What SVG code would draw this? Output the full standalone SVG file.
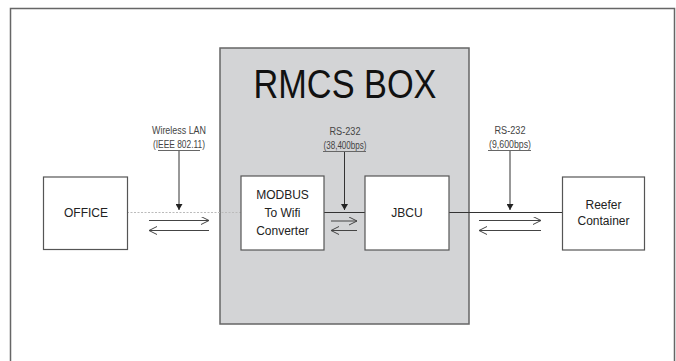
<svg xmlns="http://www.w3.org/2000/svg" width="676" height="361" viewBox="0 0 676 361">
<style>
.box{fill:#fff;stroke:#555;stroke-width:1.2}
.ln{stroke:#333;stroke-width:1;fill:none}
.arr{stroke:#444;stroke-width:1;fill:none}
.t{font-family:"Liberation Sans",Arial,sans-serif;fill:#222;text-anchor:middle}
.m{font-size:12px}
.s{font-size:10px;fill:#444}
</style>
<defs>
<marker id="open" markerWidth="10" markerHeight="10" refX="8" refY="4" orient="auto" markerUnits="userSpaceOnUse">
<path d="M0,0 L8,4 L0,8" fill="none" stroke="#444" stroke-width="1"/>
</marker>
<marker id="fill" markerWidth="8" markerHeight="8" refX="3.5" refY="6" orient="0" markerUnits="userSpaceOnUse">
<path d="M0,0 L7,0 L3.5,6 Z" fill="#222"/>
</marker>
</defs>
<rect x="0" y="0" width="676" height="361" fill="#fff"/>
<path d="M10.5,370 L10.5,8.5 L674.5,8.5 L674.5,370" fill="none" stroke="#666" stroke-width="1.5"/>
<g id="rmcs">
<rect x="220" y="48" width="249" height="276" fill="#d3d4d6" stroke="#666" stroke-width="1.5"/>
<text class="t" x="345" y="97.5" font-size="40" textLength="183" lengthAdjust="spacingAndGlyphs" style="fill:#111">RMCS BOX</text>
</g>
<g id="connectors">
<line x1="127" y1="212.5" x2="241" y2="212.5" stroke="#bbb" stroke-width="1.2" stroke-dasharray="2,1.5"/>
<line class="ln" x1="324" y1="212.5" x2="365" y2="212.5"/>
<line class="ln" x1="449" y1="212.5" x2="562" y2="212.5"/>
<line class="ln" x1="179" y1="151" x2="179" y2="210" marker-end="url(#fill)"/>
<line class="ln" x1="344.5" y1="152" x2="344.5" y2="210" marker-end="url(#fill)"/>
<line class="ln" x1="510" y1="151" x2="510" y2="210" marker-end="url(#fill)"/>
<line class="arr" x1="149" y1="220.5" x2="209" y2="220.5" marker-end="url(#open)"/>
<line class="arr" x1="209" y1="230.5" x2="149" y2="230.5" marker-end="url(#open)"/>
<line class="arr" x1="331" y1="221" x2="357" y2="221" marker-end="url(#open)"/>
<line class="arr" x1="357" y1="230.5" x2="331" y2="230.5" marker-end="url(#open)"/>
<line class="arr" x1="479" y1="220.5" x2="541" y2="220.5" marker-end="url(#open)"/>
<line class="arr" x1="541" y1="230.5" x2="479" y2="230.5" marker-end="url(#open)"/>
<line stroke="#666" stroke-width="1" x1="158" y1="150.5" x2="200" y2="150.5"/>
<line stroke="#666" stroke-width="1" x1="323" y1="151.5" x2="366" y2="151.5"/>
<line stroke="#666" stroke-width="1" x1="488" y1="150.5" x2="531" y2="150.5"/>
<text class="t s" x="179" y="134" textLength="54" lengthAdjust="spacingAndGlyphs">Wireless LAN</text>
<text class="t s" x="179" y="147.5" textLength="52" lengthAdjust="spacingAndGlyphs">(IEEE 802.11)</text>
<text class="t s" x="345" y="135" textLength="31" lengthAdjust="spacingAndGlyphs">RS-232</text>
<text class="t s" x="345" y="148.5" textLength="43" lengthAdjust="spacingAndGlyphs">(38,400bps)</text>
<text class="t s" x="510" y="134" textLength="31" lengthAdjust="spacingAndGlyphs">RS-232</text>
<text class="t s" x="510" y="147.5" textLength="42" lengthAdjust="spacingAndGlyphs">(9,600bps)</text>
</g>
<g id="office">
<rect class="box" x="43.5" y="177" width="84" height="72.5"/>
<text class="t m" x="86" y="217">OFFICE</text>
</g>
<g id="modbus">
<rect class="box" x="241" y="176" width="83" height="74"/>
<text class="t m" x="282.5" y="199">MODBUS</text>
<text class="t m" x="282.5" y="217">To Wifi</text>
<text class="t m" x="282.5" y="235">Converter</text>
</g>
<g id="jbcu">
<rect class="box" x="365" y="176" width="84" height="74"/>
<text class="t m" x="407" y="217">JBCU</text>
</g>
<g id="reefer">
<rect class="box" x="562.5" y="177" width="82" height="73"/>
<text class="t m" x="603.5" y="209">Reefer</text>
<text class="t m" x="603.5" y="225">Container</text>
</g>
</svg>
